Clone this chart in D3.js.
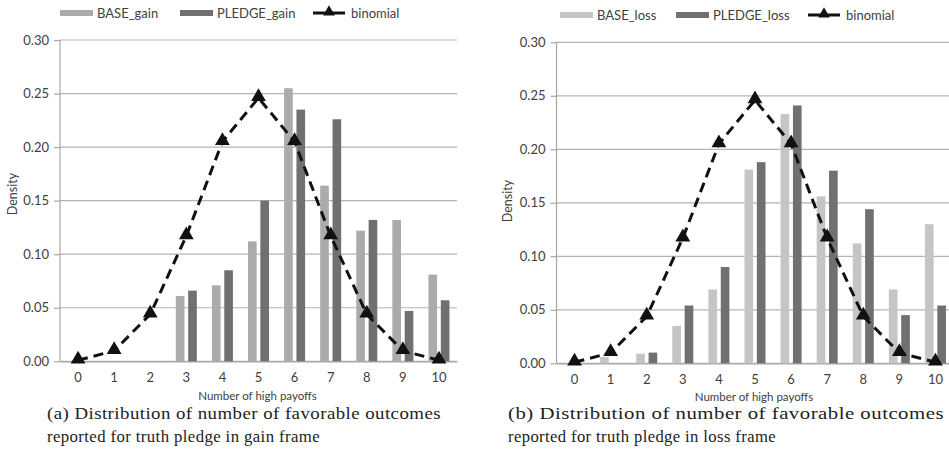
<!DOCTYPE html>
<html>
<head>
<meta charset="utf-8">
<script src="https://cdn.jsdelivr.net/npm/d3@7"></script>
<style>
  body { margin: 0; background: #fff; }
  svg { display: block; }
</style>
</head>
<body>
<svg id="chart" width="949" height="466"></svg>
<script>
// ---- data ----
const categories = [0, 1, 2, 3, 4, 5, 6, 7, 8, 9, 10];
const baseGain   = [0, 0, 0, 0.061, 0.071, 0.112, 0.255, 0.164, 0.122, 0.132, 0.081];
const pledgeGain = [0, 0, 0, 0.066, 0.085, 0.150, 0.235, 0.226, 0.132, 0.047, 0.057];
const baseLoss   = [0, 0.006, 0.009, 0.035, 0.069, 0.181, 0.233, 0.156, 0.112, 0.069, 0.130];
const pledgeLoss = [0, 0, 0.010, 0.054, 0.090, 0.188, 0.241, 0.180, 0.144, 0.045, 0.054];
const binomial   = [0.001, 0.0098, 0.0439, 0.117, 0.205, 0.246, 0.205, 0.117, 0.0439, 0.0098, 0.001];
const yTicks = [0, 0.05, 0.10, 0.15, 0.20, 0.25, 0.30];
const xTitle = "Number of high payoffs";
const yTitle = "Density";

const panels = [
  { x0: 60, x1: 457, yTop: 40, yZero: 361.3, base: baseGain, pledge: pledgeGain,
    names: ["BASE_gain", "PLEDGE_gain", "binomial"], baseColor: "#ababad",
    legendX: [60, 180, 313], legendY: 13, yTitleX: 13, yTitleY: 194, xTitleY: 400,
    caption: ["(a) Distribution of number of favorable outcomes", "reported for truth pledge in gain frame"],
    capX: 47, capW: [394, 273] },
  { x0: 556.5, x1: 953.5, yTop: 42.3, yZero: 363.3, base: baseLoss, pledge: pledgeLoss,
    names: ["BASE_loss", "PLEDGE_loss", "binomial"], baseColor: "#c5c5c7",
    legendX: [560, 676, 808], legendY: 15, yTitleX: 508, yTitleY: 201, xTitleY: 401,
    caption: ["(b) Distribution of number of favorable outcomes", "reported for truth pledge in loss frame"],
    capX: 508, capW: [436, 268] }
];
const pledgeColor = "#707073";
const font = "Lato, 'Open Sans', sans-serif";

const svg = d3.select("#chart");

panels.forEach(p => {
  const g = svg.append("g");
  const x = d3.scaleBand().domain(categories).range([p.x0, p.x1]).paddingInner(0).paddingOuter(0);
  const y = d3.scaleLinear().domain([0, 0.30]).range([p.yZero, p.yTop]);
  const inner = d3.scaleBand().domain(["base", "pledge"]).range([-10.5, 10.5]).paddingInner(0.3);

  // gridlines
  g.append("g").selectAll("line").data(yTicks).join("line")
    .attr("x1", p.x0).attr("x2", p.x1)
    .attr("y1", d => y(d)).attr("y2", d => y(d))
    .attr("stroke", "#b3b3b3").attr("stroke-width", 1.2);

  // y axis
  const yAxis = g.append("g").attr("transform", `translate(${p.x0},0)`)
    .call(d3.axisLeft(y).tickValues(yTicks).tickFormat(d3.format(".2f")).tickSize(6).tickPadding(5));
  yAxis.select(".domain").attr("stroke", "#a6a6a6").attr("stroke-width", 1.2).attr("d", `M0,${p.yZero}V${p.yTop}`);
  yAxis.selectAll(".tick line").attr("stroke", "#a6a6a6").attr("stroke-width", 1.2);
  yAxis.selectAll(".tick text").attr("font-family", font).attr("font-size", 13).attr("fill", "#404040");

  // x axis
  const xAxis = g.append("g").attr("transform", `translate(0,${p.yZero})`)
    .call(d3.axisBottom(x).tickSize(0).tickPadding(11));
  xAxis.select(".domain").attr("stroke", "#a6a6a6").attr("stroke-width", 1.2);
  xAxis.selectAll(".tick text").attr("font-family", font).attr("font-size", 13).attr("fill", "#404040");

  // bars
  const rows = categories.map((c, i) => ({ c, base: p.base[i], pledge: p.pledge[i] }));
  const grp = g.append("g").selectAll("g").data(rows).join("g")
    .attr("transform", d => `translate(${x(d.c) + x.bandwidth() / 2},0)`);
  grp.selectAll("rect").data(d => [["base", d.base], ["pledge", d.pledge]].filter(e => e[1] > 0)).join("rect")
    .attr("x", d => inner(d[0]))
    .attr("width", inner.bandwidth())
    .attr("y", d => y(d[1]))
    .attr("height", d => y(0) - y(d[1]))
    .attr("fill", d => d[0] === "base" ? p.baseColor : pledgeColor);

  // binomial line
  const line = d3.line().x((d, i) => x(categories[i]) + x.bandwidth() / 2).y(d => y(d));
  g.append("path").datum(binomial).attr("d", line)
    .attr("fill", "none").attr("stroke", "#111").attr("stroke-width", 3)
    .attr("stroke-dasharray", "10,6");
  g.append("g").selectAll("path").data(binomial).join("path")
    .attr("d", d3.symbol(d3.symbolTriangle, 95))
    .attr("transform", (d, i) => `translate(${x(categories[i]) + x.bandwidth() / 2},${y(d) - 1})`)
    .attr("fill", "#111");

  // titles
  g.append("text").attr("x", (p.x0 + p.x1) / 2 - 1).attr("y", p.xTitleY)
    .attr("text-anchor", "middle").attr("font-family", font).attr("font-size", 11.5)
    .attr("fill", "#404040").text(xTitle);
  g.append("text").attr("transform", `translate(${p.yTitleX + 4},${p.yTitleY}) rotate(-90)`)
    .attr("text-anchor", "middle").attr("font-family", font).attr("font-size", 12.5)
    .attr("fill", "#404040").text(yTitle);

  // legend
  const lg = g.append("g").attr("font-family", font).attr("font-size", 13).attr("fill", "#404040");
  lg.append("rect").attr("x", p.legendX[0]).attr("y", p.legendY - 3).attr("width", 33).attr("height", 6).attr("fill", p.baseColor);
  lg.append("text").attr("x", p.legendX[0] + 37).attr("y", p.legendY + 4.5).text(p.names[0]);
  lg.append("rect").attr("x", p.legendX[1]).attr("y", p.legendY - 3).attr("width", 33).attr("height", 6).attr("fill", pledgeColor);
  lg.append("text").attr("x", p.legendX[1] + 37).attr("y", p.legendY + 4.5).text(p.names[1]);
  lg.append("line").attr("x1", p.legendX[2]).attr("x2", p.legendX[2] + 32)
    .attr("y1", p.legendY).attr("y2", p.legendY).attr("stroke", "#111").attr("stroke-width", 3);
  lg.append("path").attr("d", d3.symbol(d3.symbolTriangle, 60))
    .attr("transform", `translate(${p.legendX[2] + 16},${p.legendY - 1})`).attr("fill", "#111");
  lg.append("text").attr("x", p.legendX[2] + 38).attr("y", p.legendY + 4.5).text(p.names[2]);

  // caption
  p.caption.forEach((t, i) => {
    svg.append("text").attr("x", p.capX).attr("y", 419 + i * 23)
      .attr("font-family", "'Liberation Serif', 'DejaVu Serif', serif").attr("font-size", 17)
      .attr("fill", "#222")
      .attr("letter-spacing", 0.4)
      .attr("textLength", p.capW[i]).attr("lengthAdjust", "spacingAndGlyphs")
      .text(t);
  });
});
</script>
</body>
</html>
